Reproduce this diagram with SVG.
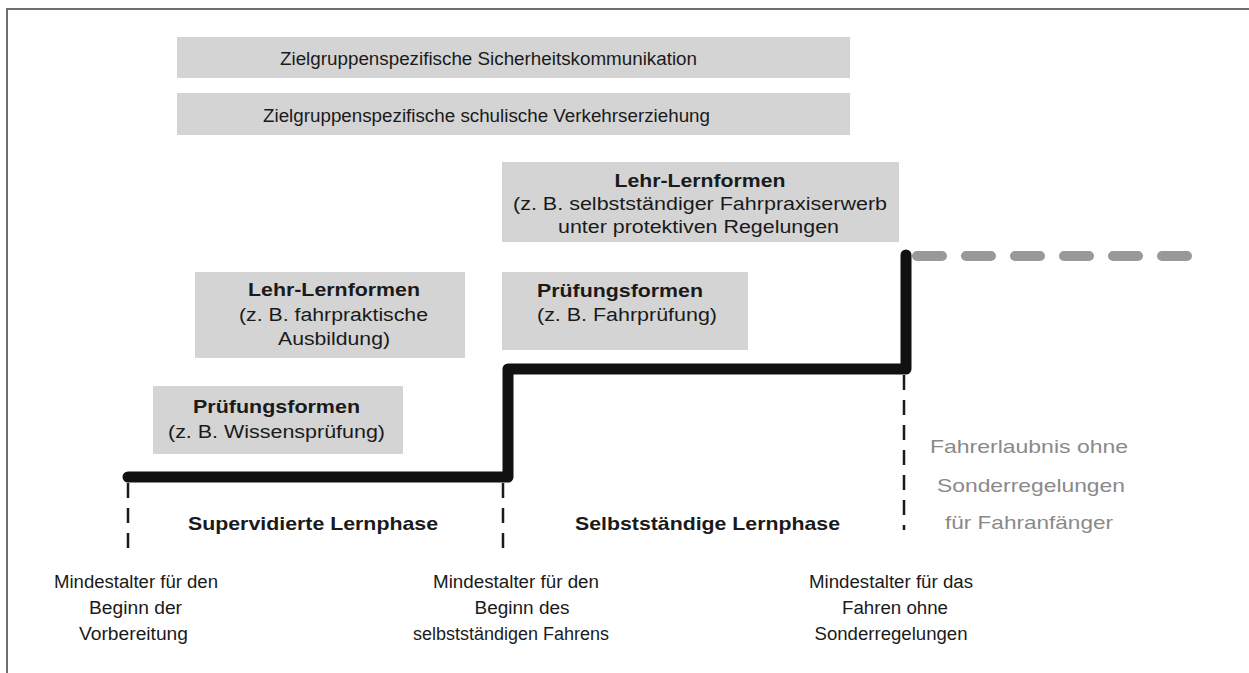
<svg xmlns="http://www.w3.org/2000/svg" width="1249" height="673" viewBox="0 0 1249 673">
<style>
.box{fill:#d4d4d4}
.t{font-family:"Liberation Sans",Arial,sans-serif;fill:#1a1a1a;font-size:18px}
.b{font-weight:bold;font-size:19px}
.c{text-anchor:middle}
.g{fill:#8a8a8a;font-size:19px}
.thick{fill:none;stroke:#111;stroke-width:11;stroke-linecap:round;stroke-linejoin:round}
.gd{fill:none;stroke:#999;stroke-width:10;stroke-linecap:round;stroke-dasharray:25 24}
.vd{fill:none;stroke:#1a1a1a;stroke-width:2.5;stroke-dasharray:15 10}
</style>
<rect width="1249" height="673" fill="#fff"/>
<path d="M7,673 V9 H1249" fill="none" stroke="#6e6e6e" stroke-width="2"/>

<g id="sicherheitskommunikation">
<rect class="box" x="177" y="37" width="673" height="41"/>
<text class="t c" x="488.5" y="65" textLength="417" lengthAdjust="spacingAndGlyphs">Zielgruppenspezifische Sicherheitskommunikation</text>
</g>
<g id="verkehrserziehung">
<rect class="box" x="177" y="93" width="673" height="42"/>
<text class="t c" x="486.5" y="122" textLength="447" lengthAdjust="spacingAndGlyphs">Zielgruppenspezifische schulische Verkehrserziehung</text>
</g>
<g id="lehrlern-selbst">
<rect class="box" x="502" y="162" width="397" height="80"/>
<text class="t b c" x="700" y="187" textLength="171" lengthAdjust="spacingAndGlyphs">Lehr-Lernformen</text>
<text class="t c" x="700" y="210" textLength="374" lengthAdjust="spacingAndGlyphs">(z. B. selbstständiger Fahrpraxiserwerb</text>
<text class="t c" x="698.5" y="233" textLength="281" lengthAdjust="spacingAndGlyphs">unter protektiven Regelungen</text>
</g>
<g id="lehrlern-fahrpraktisch">
<rect class="box" x="195" y="272" width="270" height="86"/>
<text class="t b c" x="334" y="296" textLength="172" lengthAdjust="spacingAndGlyphs">Lehr-Lernformen</text>
<text class="t c" x="333.5" y="321" textLength="189" lengthAdjust="spacingAndGlyphs">(z. B. fahrpraktische</text>
<text class="t c" x="334" y="345" textLength="112" lengthAdjust="spacingAndGlyphs">Ausbildung)</text>
</g>
<g id="pruefung-fahr">
<rect class="box" x="502" y="272" width="246" height="78"/>
<text class="t b" x="537" y="297" textLength="166" lengthAdjust="spacingAndGlyphs">Prüfungsformen</text>
<text class="t" x="537" y="321" textLength="180" lengthAdjust="spacingAndGlyphs">(z. B. Fahrprüfung)</text>
</g>
<g id="pruefung-wissen">
<rect class="box" x="153" y="386" width="250" height="68"/>
<text class="t b c" x="276.5" y="413" textLength="167" lengthAdjust="spacingAndGlyphs">Prüfungsformen</text>
<text class="t c" x="276.5" y="438" textLength="217" lengthAdjust="spacingAndGlyphs">(z. B. Wissensprüfung)</text>
</g>

<g id="connectors">
<path class="thick" d="M128,477 H508 V369 H906 V255"/>
<path class="gd" d="M917,256 H1192"/>
<path class="vd" d="M128,483 V555"/>
<path class="vd" d="M503,483 V555"/>
<path class="vd" d="M904,375 V530"/>
</g>

<g id="phase-supervidiert">
<text class="t b c" x="313" y="530" textLength="250" lengthAdjust="spacingAndGlyphs">Supervidierte Lernphase</text>
</g>
<g id="phase-selbst">
<text class="t b c" x="707.5" y="530" textLength="265" lengthAdjust="spacingAndGlyphs">Selbstständige Lernphase</text>
</g>
<g id="fahrerlaubnis">
<text class="t g c" x="1029" y="453" textLength="198" lengthAdjust="spacingAndGlyphs">Fahrerlaubnis ohne</text>
<text class="t g c" x="1031" y="492" textLength="188" lengthAdjust="spacingAndGlyphs">Sonderregelungen</text>
<text class="t g c" x="1029" y="529" textLength="168" lengthAdjust="spacingAndGlyphs">für Fahranfänger</text>
</g>
<g id="mindestalter-vorbereitung">
<text class="t c" x="136" y="588" textLength="164" lengthAdjust="spacingAndGlyphs">Mindestalter für den</text>
<text class="t c" x="135.5" y="614" textLength="93" lengthAdjust="spacingAndGlyphs">Beginn der</text>
<text class="t c" x="133.5" y="640" textLength="109" lengthAdjust="spacingAndGlyphs">Vorbereitung</text>
</g>
<g id="mindestalter-selbst">
<text class="t c" x="516" y="588" textLength="166" lengthAdjust="spacingAndGlyphs">Mindestalter für den</text>
<text class="t c" x="522" y="614" textLength="95" lengthAdjust="spacingAndGlyphs">Beginn des</text>
<text class="t c" x="511" y="640" textLength="196" lengthAdjust="spacingAndGlyphs">selbstständigen Fahrens</text>
</g>
<g id="mindestalter-ohne">
<text class="t c" x="891" y="588" textLength="164" lengthAdjust="spacingAndGlyphs">Mindestalter für das</text>
<text class="t c" x="895" y="614" textLength="106" lengthAdjust="spacingAndGlyphs">Fahren ohne</text>
<text class="t c" x="891" y="640" textLength="153" lengthAdjust="spacingAndGlyphs">Sonderregelungen</text>
</g>
</svg>
